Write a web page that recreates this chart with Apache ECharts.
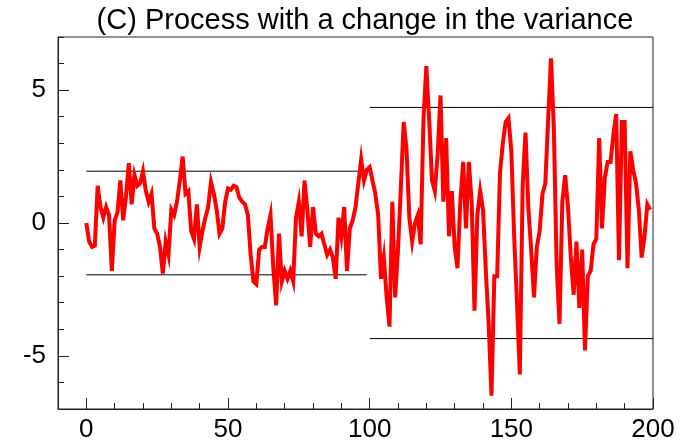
<!DOCTYPE html>
<html>
<head>
<meta charset="utf-8">
<script src="https://cdn.jsdelivr.net/npm/echarts@6/dist/echarts.min.js"></script>
<style>
  html, body { margin: 0; padding: 0; background: #fff; }
  #chart { width: 682px; height: 446px; }
</style>
</head>
<body>
<div id="chart"></div>
<script>
// process values, t = 0..199 (variance changes at t = 100)
const before = [
  0.0, -0.7, -0.9, -0.85, 1.4, 0.6, 0.2, 0.6, 0.3, -1.8,
  0.1, 0.4, 1.6, 0.1, 1.0, 2.25, 0.7, 1.8, 1.4, 1.5,
  1.95, 1.2, 0.8, 1.1, -0.2, -0.4, -0.9, -1.9, -0.7, -1.2,
  0.5, 0.3, 0.8, 1.6, 2.5, 1.1, 1.2, -0.3, -0.6, 0.7,
  -0.9, -0.3, 0.2, 0.6, 1.55, 1.1, 0.5, -0.4, -0.2, 0.8,
  1.3, 1.25, 1.4, 1.35, 0.95, 0.8, 0.7, 0.3, -1.2, -2.2,
  -2.3, -1.0, -0.9, -0.9, -0.2, 0.3, -1.7, -3.1, -0.4, -2.2,
  -1.8, -2.1, -1.8, -2.2, 0.2, 0.8, -0.5, 1.6, 0.5, -0.9,
  0.6, -0.4, -0.5, -0.4, -0.8, -1.2, -1.0, -1.3, -2.1, 0.2,
  -0.5, 0.6, -1.8, -0.2, 0.1, 0.6, 1.5, 2.4, 1.6, 2.0
];
const after = [
  2.1, 1.6, 1.1, 0.3, -2.1, -1.3, -2.8, -3.9, 0.8, -2.8,
  -1.0, 1.3, 3.8, 2.8, 0.2, -0.7, 0.0, 0.3, -0.8, 3.9,
  5.9, 3.9, 1.6, 1.2, 2.6, 4.8, 0.8, 3.2, -0.5, 1.2,
  -0.9, -1.7, 0.8, 2.3, -0.2, 2.3, 0.8, -3.3, 0.3, 1.2,
  0.5, -1.8, -3.8, -6.5, -2.0, -2.0, 1.9, 3.0, 3.8, 3.95,
  2.7, -0.5, -3.0, -5.7, 1.4, 3.4, 0.6, -1.0, -2.8, -0.9,
  -0.3, 1.1, 1.5, 3.9, 6.2, 3.6, -1.6, -3.8, 0.8, 1.8,
  0.6, -1.3, -2.7, -0.7, -3.2, -1.0, -4.8, -2.0, -1.8, -0.8,
  -0.6, 3.2, -0.2, 1.7, 2.3, 2.3, 3.3, 4.1, -1.4, 3.8,
  3.8, -1.7, 2.7, 2.0, 1.5, 0.5, -1.3, -0.5, 0.7, 0.5
];
const values = before.concat(after);

// +/- limits and the span each one covers
const limitBefore = 1.95;
const spanBefore = [0, 99];
const limitAfter = 4.35;
const spanAfter = [100, 200];

const xMajor = [0, 50, 100, 150, 200];
const yMajor = [-5, 0, 5];

const chart = echarts.init(document.getElementById('chart'), null, { renderer: 'canvas' });

const font = "'Liberation Sans', Arial, sans-serif";
const ink = '#222';

function hline(span, level) {
  return {
    type: 'line',
    data: span.map((t) => [t, level]),
    showSymbol: false,
    silent: true,
    lineStyle: { color: '#000', width: 1 },
    z: 1
  };
}

chart.setOption({
  animation: false,
  backgroundColor: '#fff',
  title: {
    text: '(C) Process with a change in the variance',
    left: 360,
    top: 1,
    textAlign: 'center',
    textStyle: { fontFamily: font, fontSize: 29, fontWeight: 'normal', color: '#000' }
  },
  grid: { left: 58, right: 29, top: 37, bottom: 37, show: true, borderColor: ink, borderWidth: 1, backgroundColor: 'transparent' },
  xAxis: [
    {
      type: 'value', min: -10, max: 200, interval: 10,
      axisLine: { onZero: false, lineStyle: { color: ink, width: 1 } },
      axisTick: { inside: true, length: 6, lineStyle: { color: ink } },
      axisLabel: { show: false },
      splitLine: { show: false }
    },
    {
      type: 'value', min: -10, max: 200, position: 'bottom',
      axisLine: { show: false, onZero: false },
      axisTick: { inside: true, length: 11, customValues: xMajor, lineStyle: { color: ink } },
      axisLabel: { customValues: xMajor, margin: 8, fontFamily: font, fontSize: 26, color: '#000' },
      splitLine: { show: false }
    }
  ],
  yAxis: [
    {
      type: 'value', min: -7, max: 7, interval: 1,
      axisLine: { show: true, onZero: false, lineStyle: { color: ink, width: 1 } },
      axisTick: { show: true, inside: true, length: 6, lineStyle: { color: ink } },
      axisLabel: { show: false },
      splitLine: { show: false }
    },
    {
      type: 'value', min: -7, max: 7, position: 'left',
      axisLine: { show: false, onZero: false },
      axisTick: { show: true, inside: true, length: 11, customValues: yMajor, lineStyle: { color: ink } },
      axisLabel: { customValues: yMajor, margin: 12, fontFamily: font, fontSize: 26, color: '#000' },
      splitLine: { show: false }
    }
  ],
  series: [
    hline(spanBefore, limitBefore),
    hline(spanBefore, -limitBefore),
    hline(spanAfter, limitAfter),
    hline(spanAfter, -limitAfter),
    {
      type: 'line',
      data: values.map((v, t) => [t, v]),
      showSymbol: false,
      clip: true,
      lineStyle: { color: '#ff0000', width: 4, join: 'miter' },
      z: 3
    }
  ]
});
</script>
</body>
</html>
